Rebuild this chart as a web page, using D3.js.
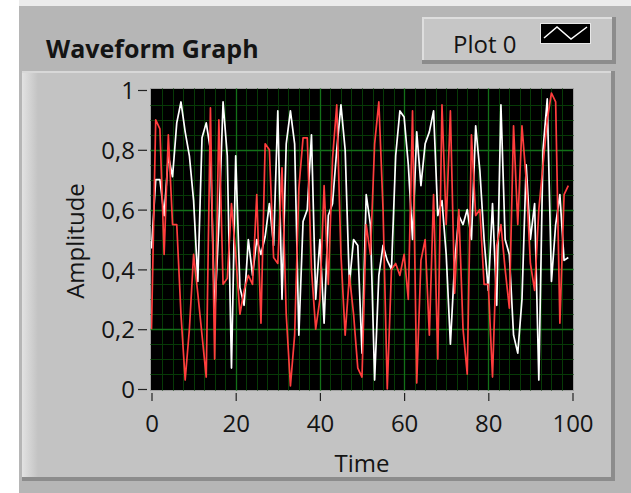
<!DOCTYPE html>
<html>
<head>
<meta charset="utf-8">
<script src="https://cdn.jsdelivr.net/npm/d3@7"></script>
<style>
  html, body { margin: 0; padding: 0; background: #ffffff; }
  svg { display: block; }
  text { font-family: "Open Sans", "Noto Sans", sans-serif; fill: #141414; }
</style>
</head>
<body>
<svg id="chart" width="631" height="493"></svg>
<script>
// Plot 0 (white trace), one value per sample
const plot0 = [
  0.47, 0.70, 0.70, 0.58, 0.78, 0.71, 0.89, 0.96, 0.86, 0.78,
  0.63, 0.36, 0.84, 0.89, 0.80, 0.25, 0.55, 0.96, 0.78, 0.07,
  0.78, 0.34, 0.28, 0.50, 0.38, 0.50, 0.45, 0.51, 0.62, 0.48,
  0.93, 0.30, 0.82, 0.93, 0.82, 0.18, 0.56, 0.60, 0.85, 0.30,
  0.50, 0.22, 0.58, 0.62, 0.80, 0.95, 0.80, 0.35, 0.50, 0.48,
  0.12, 0.65, 0.55, 0.03, 0.38, 0.48, 0.43, 0.40, 0.78, 0.93,
  0.91, 0.75, 0.50, 0.86, 0.68, 0.82, 0.86, 0.93, 0.58, 0.63,
  0.45, 0.15, 0.42, 0.58, 0.55, 0.60, 0.50, 0.88, 0.73, 0.50,
  0.33, 0.62, 0.28, 0.95, 0.50, 0.45, 0.18, 0.12, 0.30, 0.75,
  0.50, 0.62, 0.03, 0.80, 0.97, 0.36, 0.55, 0.65, 0.43, 0.44
];

// Plot 1 (red trace)
const plot1 = [
  0.20, 0.90, 0.87, 0.45, 0.85, 0.55, 0.55, 0.25, 0.03, 0.20,
  0.45, 0.32, 0.18, 0.04, 0.94, 0.10, 0.90, 0.35, 0.37, 0.62,
  0.45, 0.25, 0.33, 0.38, 0.35, 0.65, 0.22, 0.82, 0.80, 0.44,
  0.42, 0.74, 0.25, 0.01, 0.18, 0.67, 0.84, 0.84, 0.40, 0.20,
  0.30, 0.68, 0.35, 0.77, 0.95, 0.45, 0.18, 0.38, 0.25, 0.07,
  0.04, 0.55, 0.45, 0.82, 0.96, 0.60, 0.00, 0.40, 0.42, 0.38,
  0.45, 0.30, 0.93, 0.02, 0.43, 0.50, 0.18, 0.65, 0.10, 0.95,
  0.55, 0.93, 0.32, 0.60, 0.20, 0.05, 0.85, 0.58, 0.60, 0.35,
  0.35, 0.04, 0.48, 0.55, 0.40, 0.27, 0.88, 0.55, 0.88, 0.70,
  0.42, 0.33, 0.60, 0.75, 0.90, 0.99, 0.96, 0.22, 0.65, 0.68
];

const xTicks = [0, 20, 40, 60, 80, 100];
const yTicks = [0, 0.2, 0.4, 0.6, 0.8, 1];
const yTickLabels = ["0", "0,2", "0,4", "0,6", "0,8", "1"];
const xMinorStep = 2.5;
const yMinorStep = 0.05;
const titleText = "Waveform Graph";
const legendText = "Plot 0";
const xTitle = "Time";
const yTitle = "Amplitude";

const svg = d3.select("#chart");

// plot rectangle
const P = { left: 150.5, top: 88.5, right: 573.5, bottom: 390.5 };
const x = d3.scaleLinear().domain([0, 100]).range([151.5, 572.5]);
const y = d3.scaleLinear().domain([0, 1]).range([389, 90]);

// ---- panel & frame ----
const defs = svg.append("defs");
const lg = defs.append("linearGradient").attr("id", "leftEdge")
  .attr("x1", 0).attr("x2", 1).attr("y1", 0).attr("y2", 0);
lg.append("stop").attr("offset", "0%").attr("stop-color", "#e2e2e2");
lg.append("stop").attr("offset", "100%").attr("stop-color", "#c3c3c3");

svg.append("rect").attr("x", 0).attr("y", 0).attr("width", 631).attr("height", 493).attr("fill", "#ffffff");
svg.append("rect").attr("x", 19).attr("y", 0).attr("width", 612).attr("height", 6).attr("fill", "#ececec");
svg.append("rect").attr("x", 19).attr("y", 6).attr("width", 612).attr("height", 487).attr("fill", "#b6b6b6");

// raised inner frame
svg.append("rect").attr("x", 22).attr("y", 71).attr("width", 593).attr("height", 410).attr("fill", "#8c8c8c");
svg.append("rect").attr("x", 22).attr("y", 71).attr("width", 589).attr("height", 406).attr("fill", "#c3c3c3");
svg.append("rect").attr("x", 22).attr("y", 71).attr("width", 16).attr("height", 406).attr("fill", "url(#leftEdge)");
svg.append("rect").attr("x", 22).attr("y", 71).attr("width", 589).attr("height", 2).attr("fill", "#d8d8d8");

// legend box
svg.append("rect").attr("x", 422).attr("y", 17).attr("width", 194).attr("height", 47).attr("fill", "#8c8c8c");
svg.append("rect").attr("x", 422).attr("y", 17).attr("width", 190).attr("height", 43).attr("fill", "#c6c6c6");
svg.append("rect").attr("x", 422).attr("y", 17).attr("width", 190).attr("height", 2).attr("fill", "#dedede");
svg.append("rect").attr("x", 422).attr("y", 17).attr("width", 2).attr("height", 43).attr("fill", "#dedede");
svg.append("text").attr("x", 453).attr("y", 53).attr("font-size", 24).text(legendText);
svg.append("rect").attr("x", 540.5).attr("y", 23.5).attr("width", 50).attr("height", 20)
  .attr("fill", "#000").attr("stroke", "#e8e8e8").attr("stroke-width", 1);
svg.append("polyline")
  .attr("points", "544,38 557,27 571,39 587,27")
  .attr("fill", "none").attr("stroke", "#fff").attr("stroke-width", 1.5);

// title
svg.append("text").attr("x", 46).attr("y", 58).attr("font-size", 25).attr("font-weight", 700)
  .text(titleText);

// ---- plot area ----
svg.append("rect").attr("x", P.left).attr("y", P.top)
  .attr("width", P.right - P.left).attr("height", P.bottom - P.top)
  .attr("fill", "#000").attr("stroke", "#a0a0a0").attr("stroke-width", 1);

const grid = svg.append("g");
const xMinor = d3.range(0, 100 + 1e-9, xMinorStep).filter(v => !xTicks.includes(v));
const yMinor = d3.range(0, 1 + 1e-9, yMinorStep).map(v => +v.toFixed(2)).filter(v => !yTicks.includes(v));

grid.selectAll("line.xm").data(xMinor).join("line")
  .attr("x1", d => Math.round(x(d)) + 0.5).attr("x2", d => Math.round(x(d)) + 0.5)
  .attr("y1", P.top).attr("y2", P.bottom)
  .attr("stroke", "#073a07").attr("stroke-width", 1);
grid.selectAll("line.ym").data(yMinor).join("line")
  .attr("y1", d => Math.round(y(d)) + 0.5).attr("y2", d => Math.round(y(d)) + 0.5)
  .attr("x1", P.left).attr("x2", P.right)
  .attr("stroke", "#073a07").attr("stroke-width", 1);
grid.selectAll("line.xM").data(xTicks.slice(1, -1)).join("line")
  .attr("x1", d => Math.round(x(d)) + 0.5).attr("x2", d => Math.round(x(d)) + 0.5)
  .attr("y1", P.top).attr("y2", P.bottom)
  .attr("stroke", "#137018").attr("stroke-width", 1.3);
grid.selectAll("line.yM").data(yTicks.slice(1, -1)).join("line")
  .attr("y1", d => Math.round(y(d)) + 0.5).attr("y2", d => Math.round(y(d)) + 0.5)
  .attr("x1", P.left).attr("x2", P.right)
  .attr("stroke", "#137018").attr("stroke-width", 1.3);

// traces
defs.append("clipPath").attr("id", "plotClip").append("rect")
  .attr("x", P.left + 0.5).attr("y", P.top + 0.5)
  .attr("width", P.right - P.left - 1).attr("height", P.bottom - P.top - 1);

const line = d3.line().x((d, i) => x(i)).y(d => y(d));
const traces = svg.append("g").attr("clip-path", "url(#plotClip)");
traces.append("path").datum(plot0).attr("d", line)
  .attr("fill", "none").attr("stroke", "#ffffff").attr("stroke-width", 1.7).attr("stroke-linejoin", "round");
traces.append("path").datum(plot1).attr("d", line)
  .attr("fill", "none").attr("stroke", "#ff3d3d").attr("stroke-width", 1.7).attr("stroke-linejoin", "round");

// ---- axes ----
const xAxis = svg.append("g").attr("transform", "translate(0,393)")
  .call(d3.axisBottom(x).tickValues(xTicks).tickSize(8).tickFormat(d3.format("d")));
xAxis.select(".domain").remove();
xAxis.selectAll(".tick line").attr("stroke", "#222").attr("stroke-width", 1.2);
xAxis.selectAll(".tick text").attr("y", 39).attr("dy", null)
  .attr("font-size", 24).attr("fill", "#141414").attr("font-family", "'Open Sans', sans-serif");

const yAxis = svg.append("g").attr("transform", "translate(147,0)")
  .call(d3.axisLeft(y).tickValues(yTicks).tickSize(9).tickFormat((d, i) => yTickLabels[i]));
yAxis.select(".domain").remove();
yAxis.selectAll(".tick line").attr("stroke", "#222").attr("stroke-width", 1.2);
yAxis.selectAll(".tick text").attr("x", -12).attr("dy", "0.36em")
  .attr("font-size", 24).attr("fill", "#141414").attr("font-family", "'Open Sans', sans-serif");

// axis titles
svg.append("text").attr("x", 362).attr("y", 472).attr("text-anchor", "middle")
  .attr("font-size", 24).text(xTitle);
svg.append("text").attr("transform", "translate(84,241) rotate(-90)").attr("text-anchor", "middle")
  .attr("font-size", 24).text(yTitle);
</script>
</body>
</html>
